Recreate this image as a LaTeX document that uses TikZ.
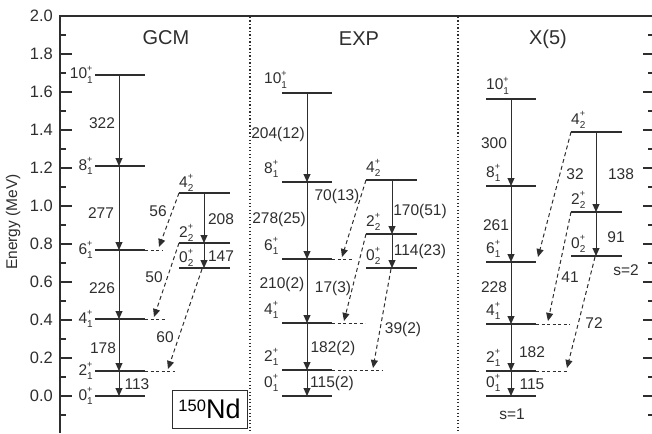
\documentclass[tikz,border=0pt]{standalone}
\usepackage{fontspec}
\setmainfont{Liberation Sans}
\usetikzlibrary{arrows.meta}
\newcommand\lvl[2]{#1\makebox[0pt][l]{\raisebox{0.5em}{\fontsize{9}{9}\selectfont +}}\raisebox{-0.32em}{\fontsize{10}{10}\selectfont #2}}
\definecolor{ink}{gray}{0.18}
\tikzset{
  lev/.style={line width=1.5pt, draw=ink},
  ext/.style={line width=1pt, draw=ink, dash pattern=on 3pt off 2.5pt},
  tr/.style={line width=1pt, draw=ink, -{Triangle[width=7pt,length=8pt]}},
  dtr/.style={tr, dash pattern=on 4pt off 3pt},
  num/.style={font=\fontsize{15.5}{15.5}\selectfont, inner sep=0pt, text=ink},
  lab/.style={font=\fontsize{15.5}{15.5}\selectfont, inner sep=0pt, text=ink},
  ttl/.style={font=\fontsize{20}{20}\selectfont, inner sep=0pt, text=ink},
  tick/.style={line width=1.2pt, draw=ink},
  sep/.style={line width=1.2pt, draw=ink, dash pattern=on 1.1pt off 2.4pt},
}
\begin{document}
\begin{tikzpicture}[x=1pt,y=-1pt]
\useasboundingbox (0,0) rectangle (652,433);
% axes
\draw[line width=1.3pt, draw=ink] (60,433) -- (60,16) -- (652,16);
\foreach \v/\t in {0/0.0,1/0.2,2/0.4,3/0.6,4/0.8,5/1.0,6/1.2,7/1.4,8/1.6,9/1.8,10/2.0}{
  \draw[tick] (60,396-38*\v) -- (72,396-38*\v);
  \draw[tick] (643,396-38*\v) -- (652,396-38*\v);
  \node[num, anchor=east, font=\fontsize{16.5}{16.5}\selectfont] at (53,396-38*\v) {\t};
}
\foreach \v in {-1,1,3,5,7,9,11,13,15,17,19}{
  \draw[tick] (60,396-19*\v) -- (66,396-19*\v);
  \draw[tick] (648,396-19*\v) -- (652,396-19*\v);
}
\node[lab, rotate=90, font=\fontsize{15.5}{15.5}\selectfont] (ylab) at (13,222) {Energy (MeV)};
\draw[sep] (250,17) -- (250,433);
\draw[sep] (458,17) -- (458,433);
% titles
\node[ttl] (tg) at (166,38) {GCM};
\node[ttl] (te) at (359,39) {EXP};
\node[ttl] (tx) at (548,39) {X(5)};

% ================= GCM =================
\coordinate (gx) at (119,0);
\coordinate (gs) at (204,0);
\foreach \n/\y in {0/396,2/371,4/319,6/250,8/166,10/75}{
  \coordinate (g\n L) at (95,\y); \coordinate (g\n R) at (145,\y);
  \draw[lev] (g\n L) -- (g\n R);
  \node[lab, anchor=base east] at ([xshift=-2pt,yshift=-4pt]g\n L) {\lvl{\n}{1}};
}
\foreach \n/\y/\s in {42/193/4,22/243/2,02/268/0}{
  \coordinate (g\n L) at (179,\y); \coordinate (g\n R) at (230,\y);
  \draw[lev] (g\n L) -- (g\n R);
  \node[lab, anchor=base west] at ([yshift=6pt]g\n L) {\lvl{\s}{2}};
}
\coordinate (g6E) at (163,250); \coordinate (g4E) at (165,319); \coordinate (g2E) at (175,371);
\draw[ext] (g6R) -- (g6E); \draw[ext] (g4R) -- (g4E); \draw[ext] (g2R) -- (g2E);
\draw[tr] (gx |- g10L) -- (gx |- g8L);
\draw[tr] (gx |- g8L) -- (gx |- g6L);
\draw[tr] (gx |- g6L) -- (gx |- g4L);
\draw[tr] (gx |- g4L) -- (gx |- g2L);
\draw[tr] (gx |- g2L) -- (gx |- g0L);
\draw[tr] (gs |- g42L) -- (gs |- g22L);
\draw[tr] (gs |- g22L) -- (gs |- g02L);
\coordinate (g6T) at (159,247); \coordinate (g4T) at (154,317); \coordinate (g2T) at (168,369);
\coordinate (g02S) at (202,269);
\draw[dtr] (g42L) -- (g6T);
\draw[dtr] (g22L) -- (g4T);
\draw[dtr] (g02S) -- (g2T);
\node[num] at (102,123) {322};
\node[num] at (101,213) {277};
\node[num] at (102,288) {226};
\node[num] at (103,348) {178};
\node[num] at (137,384) {113};
\node[num] at (221,219) {208};
\node[num] at (221,256) {147};
\node[num] at (158,211) {56};
\node[num] at (154,277) {50};
\node[num] at (165,337) {60};
\node[draw=ink, line width=1pt, minimum width=75pt, minimum height=38pt, inner sep=0pt] (nd) at (209.5,409)
  {\raisebox{7pt}{\fontsize{16.5}{16.5}\selectfont 150}\fontsize{27}{27}\selectfont Nd};

% ================= EXP =================
\coordinate (ex) at (307,0);
\coordinate (es) at (392,0);
\foreach \n/\y in {0/396,2/370,4/323,6/259,8/182,10/93}{
  \coordinate (e\n L) at (282,\y); \coordinate (e\n R) at (332,\y);
  \draw[lev] (e\n L) -- (e\n R);
  \node[lab, anchor=base west] at (264,\y-9) {\lvl{\n}{1}};
}
\foreach \n/\y/\s in {42/180/4,22/234/2,02/268/0}{
  \coordinate (e\n L) at (366,\y); \coordinate (e\n R) at (417,\y);
  \draw[lev] (e\n L) -- (e\n R);
  \node[lab, anchor=base west] at ([yshift=8pt]e\n L) {\lvl{\s}{2}};
}
\coordinate (e6E) at (352,259); \coordinate (e4E) at (365,323); \coordinate (e2E) at (382,370);
\draw[ext] (e6R) -- (e6E); \draw[ext] (e4R) -- (e4E); \draw[ext] (e2R) -- (e2E);
\draw[tr] (ex |- e10L) -- (ex |- e8L);
\draw[tr] (ex |- e8L) -- (ex |- e6L);
\draw[tr] (ex |- e6L) -- (ex |- e4L);
\draw[tr] (ex |- e4L) -- (ex |- e2L);
\draw[tr] (ex |- e2L) -- (ex |- e0L);
\draw[tr] (es |- e42L) -- (es |- e22L);
\draw[tr] (es |- e22L) -- (es |- e02L);
\coordinate (e6T) at (342,257); \coordinate (e4T) at (344,321); \coordinate (e2T) at (373,368);
\coordinate (e02S) at (391,269);
\draw[dtr] (e42L) -- (e6T);
\draw[dtr] (e22L) -- (e4T);
\draw[dtr] (e02S) -- (e2T);
\node[num] at (278,134) {204(12)};
\node[num] at (337,196) {70(13)};
\node[num] at (279,219) {278(25)};
\node[num] at (420,211) {170(51)};
\node[num] at (420,251) {114(23)};
\node[num] at (282,284) {210(2)};
\node[num] at (333,288) {17(3)};
\node[num] at (403,329) {39(2)};
\node[num] at (333,348) {182(2)};
\node[num] at (332,383) {115(2)};

% ================= X(5) =================
\coordinate (xx) at (511,0);
\coordinate (xs) at (596,0);
\foreach \n/\y in {0/396,2/371,4/324,6/262,8/186,10/99}{
  \coordinate (x\n L) at (486,\y); \coordinate (x\n R) at (536,\y);
  \draw[lev] (x\n L) -- (x\n R);
  \node[lab, anchor=base west] at (486,\y-9) {\lvl{\n}{1}};
}
\foreach \n/\y/\s in {42/132/4,22/212/2,02/256/0}{
  \coordinate (x\n L) at (571,\y); \coordinate (x\n R) at (622,\y);
  \draw[lev] (x\n L) -- (x\n R);
  \node[lab, anchor=base west] at ([yshift=8pt]x\n L) {\lvl{\s}{2}};
}
\coordinate (x4E) at (570,324); \coordinate (x2E) at (568,371);
\draw[ext] (x4R) -- (x4E); \draw[ext] (x2R) -- (x2E);
\draw[tr] (xx |- x10L) -- (xx |- x8L);
\draw[tr] (xx |- x8L) -- (xx |- x6L);
\draw[tr] (xx |- x6L) -- (xx |- x4L);
\draw[tr] (xx |- x4L) -- (xx |- x2L);
\draw[tr] (xx |- x2L) -- (xx |- x0L);
\draw[tr] (xs |- x42L) -- (xs |- x22L);
\draw[tr] (xs |- x22L) -- (xs |- x02L);
\coordinate (x6T) at (538,257); \coordinate (x4T) at (548,321); \coordinate (x2T) at (567,368);
\coordinate (x02S) at (595,257);
\draw[dtr] (x42L) -- (x6T);
\draw[dtr] (x22L) -- (x4T);
\draw[dtr] (x02S) -- (x2T);
\node[num] at (494,143) {300};
\node[num] at (496,225) {261};
\node[num] at (494,287) {228};
\node[num] at (532,352) {182};
\node[num] at (532,384) {115};
\node[num] at (575,174) {32};
\node[num] at (621,174) {138};
\node[num] at (616,237) {91};
\node[num] at (570,277) {41};
\node[num] at (594,323) {72};
\node[num] (s2) at (626,270) {s=2};
\node[num] (s1) at (512,414) {s=1};
\end{tikzpicture}
\end{document}
